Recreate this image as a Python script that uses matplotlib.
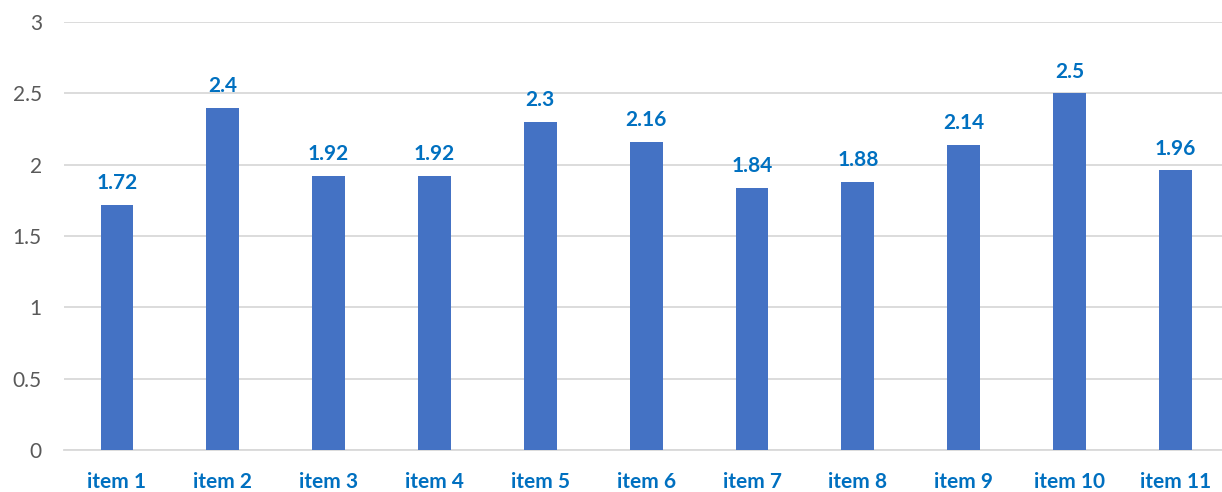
import matplotlib
matplotlib.use('Agg')
import matplotlib.pyplot as plt

items = ["item 1", "item 2", "item 3", "item 4", "item 5", "item 6",
         "item 7", "item 8", "item 9", "item 10", "item 11"]
values = [1.72, 2.4, 1.92, 1.92, 2.3, 2.16, 1.84, 1.88, 2.14, 2.5, 1.96]

plt.rcParams['font.family'] = ['Lato', 'DejaVu Sans']

fig = plt.figure(figsize=(12.22, 4.92), dpi=100)
ax = fig.add_axes([0.0524, 0.0854, 0.9476, 0.8696])

x = range(len(items))
ax.bar(x, values, width=0.31, color="#4472C4", zorder=3)

# value labels above the bars
for i, v in zip(x, values):
    ax.annotate(f"{v:g}", (i, v), xytext=(0, 8.5), textcoords="offset points",
                ha="center", va="bottom", fontsize=15, fontweight="bold",
                color="#0070C0")

ax.set_ylim(0, 3)
ax.set_xlim(-0.5, 10.44)
ax.set_yticks([0, 0.5, 1, 1.5, 2, 2.5, 3])
ax.set_yticklabels(["0", "0.5", "1", "1.5", "2", "2.5", "3"])
ax.set_xticks(list(x))
ax.set_xticklabels(items, fontsize=15, fontweight="bold", color="#0070C0")

ax.tick_params(axis="y", length=0, pad=16, labelsize=15, labelcolor="#595959")
ax.tick_params(axis="x", length=0, pad=16)
ax.grid(axis="y", color="#D9D9D9", linewidth=1.3, zorder=0)
for s in ["top", "right", "left"]:
    ax.spines[s].set_visible(False)
ax.spines["bottom"].set_color("#D9D9D9")
ax.spines["bottom"].set_linewidth(1.3)

plt.savefig("out.png", dpi=100)
